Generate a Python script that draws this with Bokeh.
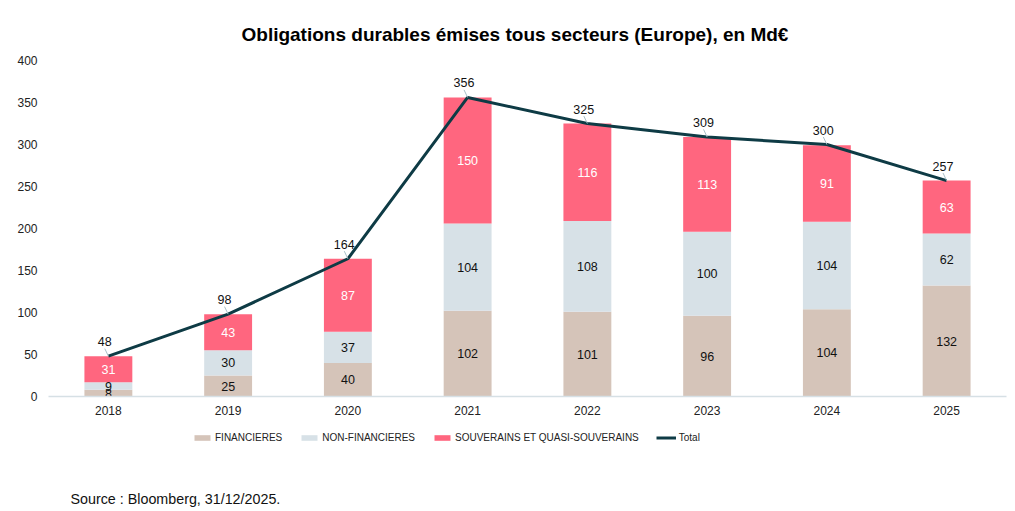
from bokeh.plotting import figure
from bokeh.layouts import column
from bokeh.models import (ColumnDataSource, Range1d, FixedTicker, Legend, LegendItem, Label)
from bokeh.core.properties import value
from bokeh.transform import dodge
from bokeh.embed import file_html
from bokeh.resources import INLINE

years = ["2018", "2019", "2020", "2021", "2022", "2023", "2024", "2025"]
financieres = [8, 25, 40, 102, 101, 96, 104, 132]
non_financieres = [9, 30, 37, 104, 108, 100, 104, 62]
souverains = [31, 43, 87, 150, 116, 113, 91, 63]
total = [48, 98, 164, 356, 325, 309, 300, 257]
y_ticks = [0, 50, 100, 150, 200, 250, 300, 350, 400]
series_names = ["FINANCIERES", "NON-FINANCIERES", "SOUVERAINS ET QUASI-SOUVERAINS", "Total"]

FONT = "Liberation Sans"
C_FIN = "#D5C4B9"
C_NON = "#D7E1E7"
C_SOUV = "#FF667F"
C_TOT = "#0E3B45"

src = ColumnDataSource(dict(
    year=years,
    fin=financieres,
    non=non_financieres,
    souv=souverains,
    total=total,
    lead_top=[t + 9 for t in total],
    fin_mid=[f / 2 for f in financieres],
    non_mid=[f + n / 2 for f, n in zip(financieres, non_financieres)],
    souv_mid=[f + n + s / 2 for f, n, s in zip(financieres, non_financieres, souverains)],
    fin_lbl=[str(v) for v in financieres],
    non_lbl=[str(v) for v in non_financieres],
    souv_lbl=[str(v) for v in souverains],
    tot_lbl=[str(v) for v in total],
))

p = figure(x_range=years, y_range=Range1d(0, 400), width=1015, height=420,
           output_backend="svg", toolbar_location=None,
           min_border_left=48, min_border_right=9, min_border_top=60, min_border_bottom=24)
p.x_range.range_padding = 0
p.outline_line_color = None
p.xgrid.grid_line_color = None
p.ygrid.grid_line_color = None

p.title.text = "Obligations durables émises tous secteurs (Europe), en Md€"
p.title.align = "left"
p.title.offset = 193
p.title.standoff = 31
p.title.text_font = FONT
p.title.text_font_size = "19px"
p.title.text_font_style = "bold"
p.title.text_color = "#000000"

p.yaxis.ticker = FixedTicker(ticks=y_ticks)
p.yaxis.axis_line_color = None
p.yaxis.major_tick_line_color = None
p.yaxis.minor_tick_line_color = None
p.yaxis.major_label_standoff = 5
p.yaxis.major_label_text_font = FONT
p.yaxis.major_label_text_font_size = "12px"
p.yaxis.major_label_text_color = "#222222"

p.xaxis.axis_line_color = "#D6E0E5"
p.xaxis.axis_line_width = 1.5
p.xaxis.major_tick_line_color = None
p.xaxis.minor_tick_line_color = None
p.xaxis.major_label_standoff = 3
p.xaxis.major_label_text_font = FONT
p.xaxis.major_label_text_font_size = "12px"
p.xaxis.major_label_text_color = "#222222"

rs = p.vbar_stack(["fin", "non", "souv"], x="year", width=0.4,
                  color=[C_FIN, C_NON, C_SOUV], line_color=None, source=src)

# segment labels
p.text(x="year", y="fin_mid", text="fin_lbl", source=src, text_align="center",
       text_baseline="middle", text_font=value(FONT), text_font_size="12.5px", text_color="#111111")
p.text(x="year", y="non_mid", text="non_lbl", source=src, text_align="center",
       text_baseline="middle", text_font=value(FONT), text_font_size="12.5px", text_color="#111111")
p.text(x="year", y="souv_mid", text="souv_lbl", source=src, text_align="center",
       text_baseline="middle", text_font=value(FONT), text_font_size="12.5px", text_color="#FFFFFF")

# total line
rl = p.line(x="year", y="total", source=src, line_color=C_TOT, line_width=3)

# leader lines and total labels
p.segment(x0="year", y0="total", x1=dodge("year", -0.03, range=p.x_range),
          y1="lead_top", source=src, line_color="#A9C0C8", line_width=1)
p.text(x=dodge("year", -0.03, range=p.x_range), y="total", text="tot_lbl", source=src,
       text_align="center", text_baseline="bottom", y_offset=-10,
       text_font=value(FONT), text_font_size="12.5px", text_color="#111111")

# bottom strip: legend and source (frame aligned with the main plot's frame)
q = figure(width=1015, height=91, x_range=years, y_range=Range1d(0, 400),
           output_backend="svg", toolbar_location=None,
           min_border_left=48, min_border_right=9, min_border_top=0, min_border_bottom=0)
q.xaxis.visible = False
q.yaxis.visible = False
q.grid.visible = False
q.outline_line_color = None

lf, ln, ls = q.vbar_stack(["fin", "non", "souv"], x="year", width=0.4,
                          color=[C_FIN, C_NON, C_SOUV], line_color=None, source=src)
lt = q.line(x="year", y="total", source=src, line_color=C_TOT, line_width=3)
for r in (lf, ln, ls, lt):
    r.visible = False

legend = Legend(items=[
    LegendItem(label=series_names[0], renderers=[lf]),
    LegendItem(label=series_names[1], renderers=[ln]),
    LegendItem(label=series_names[2], renderers=[ls]),
    LegendItem(label=series_names[3], renderers=[lt]),
], orientation="horizontal", location=(144, 67), glyph_width=20, glyph_height=7,
    label_standoff=3, spacing=17, padding=0, margin=0, border_line_color=None,
    background_fill_alpha=0, inactive_fill_alpha=0, label_text_font=FONT,
    label_text_font_size="10px", label_height=14, label_text_color="#222222")
q.add_layout(legend)

source = Label(x=22, y=13, x_units="screen", y_units="screen", text_align="left",
               text_baseline="middle", text="Source : Bloomberg, 31/12/2025.",
               text_font=FONT, text_font_size="14.3px", text_color="#111111")
q.add_layout(source)

layout = column(p, q, spacing=0)
open("out.html", "w").write(file_html(layout, INLINE))
